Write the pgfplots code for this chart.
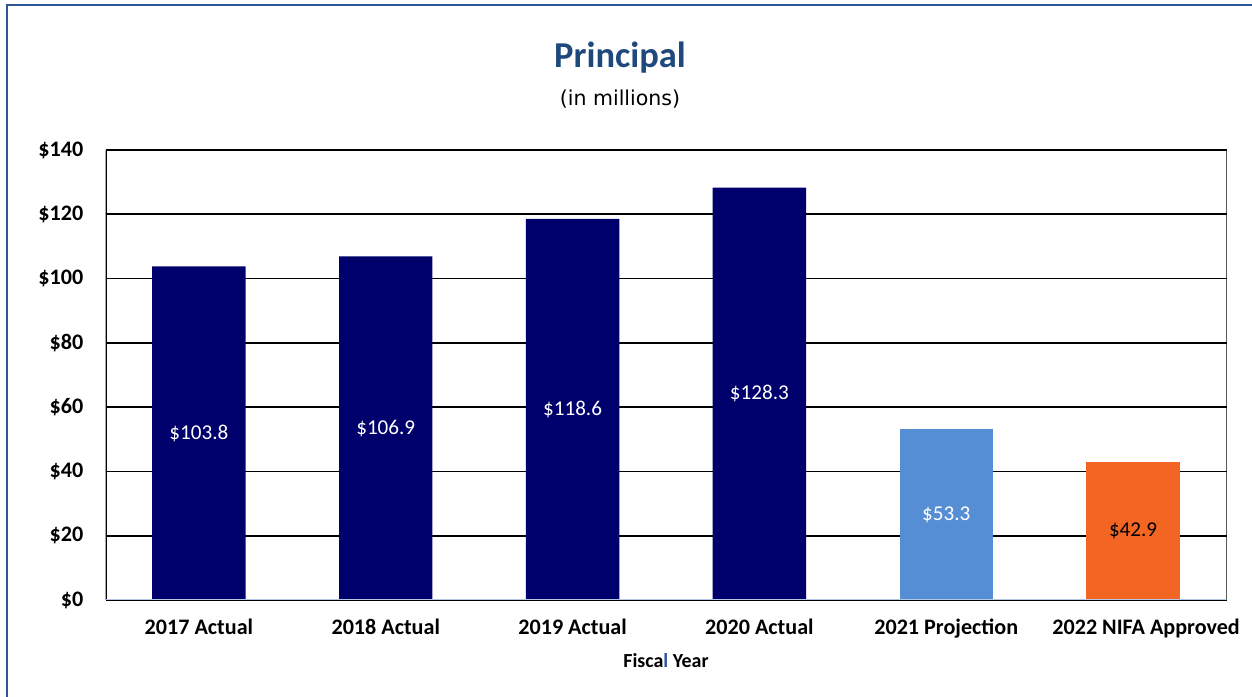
\documentclass[border=0pt]{standalone}
\usepackage{pgfplots}
\pgfplotsset{compat=1.18}
\usepackage{fontspec}
\setmainfont{Carlito}
\newfontfamily\subfont{DejaVu Sans}

\definecolor{navybar}{RGB}{0,0,108}
\definecolor{projblue}{RGB}{85,142,213}
\definecolor{nifaorange}{RGB}{242,101,34}
\definecolor{titleblue}{RGB}{31,73,125}
\definecolor{framecol}{RGB}{47,85,151}
\definecolor{baseln}{RGB}{180,199,231}

\begin{document}
\begin{tikzpicture}
\path[use as bounding box] (0bp,0bp) rectangle (626bp,348.5bp);
% outer chart frame (only left and top visible)
\draw[framecol, line width=1.2bp] (3.6bp,0bp) -- (3.6bp,346bp) -- (626bp,346bp);
\node[anchor=base, font=\fontsize{18.3}{20}\selectfont\bfseries, text=titleblue] at (310bp,314.5bp) {Principal};
\node[anchor=base, font=\subfont\fontsize{10.3}{12}\selectfont] at (310bp,295.5bp) {(in millions)};

\begin{axis}[
  at={(52.75bp,48.5bp)}, anchor=south west,
  width=560.5bp, height=225bp, scale only axis,
  xmin=-0.5, xmax=5.5, ymin=0, ymax=140,
  xtick={0,...,5},
  xticklabels={2017 Actual,2018 Actual,2019 Actual,2020 Actual,2021 Projection,\hspace*{13bp}2022 NIFA Approved},
  ytick={0,20,...,140},
  ymajorgrids, grid style={black, line width=0.9bp},
  axis line style={draw=none},
  major tick length=0pt,
  /pgf/number format/assume math mode=true,
  tick label style={font=\fontsize{11.1}{12}\selectfont\bfseries},
  yticklabel={\$\pgfmathprintnumber{\tick}},
  yticklabel style={xshift=-7.6bp},
  xticklabel style={anchor=base, yshift=-17bp},
  xlabel={Fisca{\color{framecol}l} Year},
  xlabel style={at={(axis description cs:0.5,-0.1356)}, anchor=center,
    font=\fontsize{10}{12}\selectfont\bfseries},
]
\addplot[ybar, bar width=0.5, bar shift=0pt, fill=navybar, draw=none]
  coordinates {(0,103.8) (1,106.9) (2,118.6) (3,128.3)};
\addplot[ybar, bar width=0.5, bar shift=0pt, fill=projblue, draw=none]
  coordinates {(4,53.3)};
\addplot[ybar, bar width=0.5, bar shift=0pt, fill=nifaorange, draw=none]
  coordinates {(5,42.9)};

% value labels, centred in each bar
\addplot[draw=none, mark=none, point meta=explicit,
  nodes near coords={\$\pgfmathprintnumber[fixed,precision=1,fixed zerofill]{\pgfplotspointmeta}},
  every node near coord/.append style={text=white, anchor=center, font=\fontsize{10.6}{12}\selectfont}]
  coordinates {(0,51.9)[103.8] (1,53.45)[106.9] (2,59.3)[118.6] (3,64.15)[128.3] (4,26.65)[53.3]};
\addplot[draw=none, mark=none, point meta=explicit,
  nodes near coords={\$\pgfmathprintnumber[fixed,precision=1,fixed zerofill]{\pgfplotspointmeta}},
  every node near coord/.append style={text=black, anchor=center, font=\fontsize{10.6}{12}\selectfont}]
  coordinates {(5,21.45)[42.9]};

\draw[black, line width=1bp] (rel axis cs:0,0) -- (rel axis cs:0,1);
\draw[black, line width=1bp] (rel axis cs:1,0) -- (rel axis cs:1,1);
\draw[baseln, line width=1.2bp] (rel axis cs:0,0) -- (rel axis cs:1,0);
\end{axis}
\end{tikzpicture}
\end{document}
